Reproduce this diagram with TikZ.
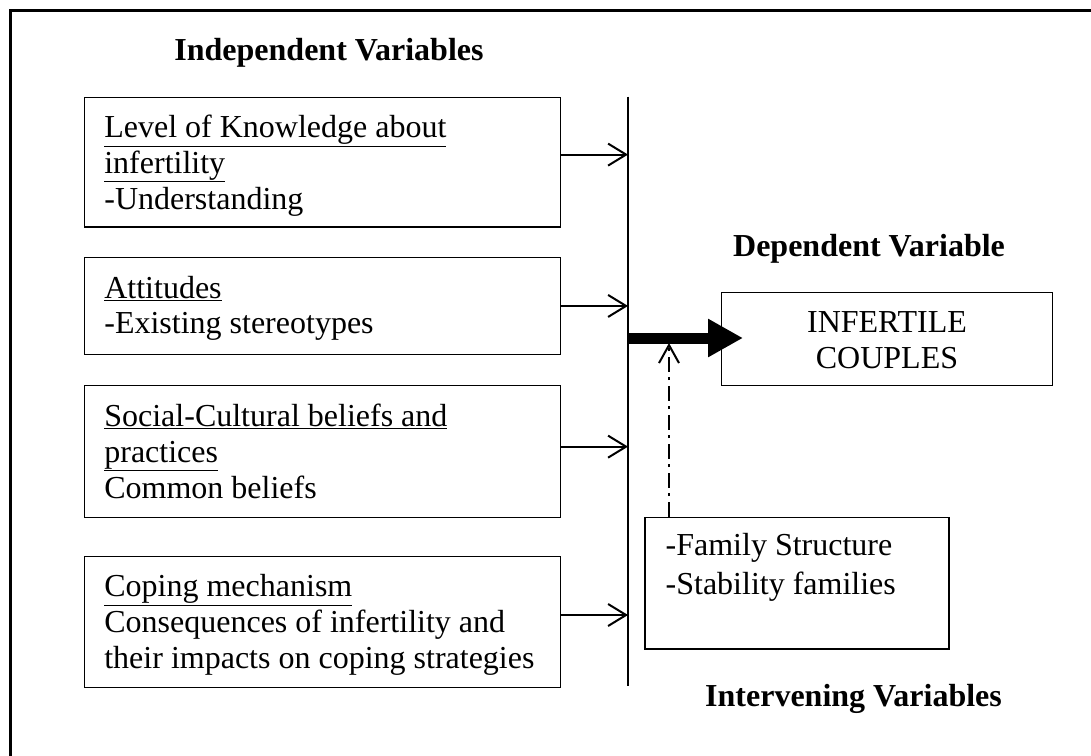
\documentclass[tikz,border=0pt]{standalone}
\usepackage{fontspec}
\setmainfont{Liberation Serif}
\usetikzlibrary{arrows.meta}

\begin{document}
\begin{tikzpicture}[
  x=1pt, y=-1pt,
  font=\fontsize{32}{35.7}\selectfont,
  arr/.style={-{Straight Barb[length=18pt,width=22pt]}, line width=2pt},
  bigarr/.style={-{Triangle[length=35pt,width=36pt]}, line width=11pt},
  modarr/.style={-{Straight Barb[length=18pt,width=20pt]}, line width=2pt, dash pattern=on 15pt off 5.5pt on 3pt off 5.5pt},
  head/.style={font=\fontsize{32}{35.7}\selectfont\bfseries, anchor=base},
  varbox/.style={draw, line width=1.3pt, anchor=north west, align=flush left, text width=436pt, inner xsep=20pt, inner ysep=0pt},
  outbox/.style={draw, line width=1.3pt, anchor=north west, align=center, inner sep=0pt}
]
\useasboundingbox (0,0) rectangle (1091,755);
\draw[line width=3pt] (10,10.7) rectangle (1200,800);

% Headings
\node[head] (indep)  at (329,60)      {Independent Variables};
\node[head] (dep)    at (869,256.7)   {Dependent Variable};
\node[head] (interv) at (853.5,706.7) {Intervening Variables};

% Independent variables
\node[varbox, text height=40.4pt, text depth=89.3pt] (know) at (83.7,96.6)
  {\underline{Level of Knowledge about}\\\underline{infertility}\\-Understanding};
\node[varbox, text height=40.5pt, text depth=56.1pt] (att) at (83.7,257)
  {\underline{Attitudes}\\-Existing stereotypes};
\node[varbox, text height=41pt, text depth=91pt] (soc) at (83.7,385)
  {\underline{Social-Cultural beliefs and}\\\underline{practices}\\Common beliefs};
\node[varbox, text height=40.3pt, text depth=91pt] (cope) at (83.7,555.7)
  {\underline{Coping mechanism}\\Consequences of infertility and\\their impacts on coping strategies};

% Dependent and intervening variables
\node[outbox, text width=331.3pt, text height=39.7pt, text depth=53.3pt, font=\fontsize{32}{36}\selectfont] (couple) at (720.7,292)
  {INFERTILE\\COUPLES};
\node[varbox, text width=262.6pt, inner xsep=20.7pt, text height=38.3pt, text depth=93.3pt, font=\fontsize{32}{39.3}\selectfont] (fam) at (644.3,516.7)
  {-Family Structure\\-Stability families};

% Collecting line
\coordinate (axtop) at (628,96.6);
\coordinate (axbot) at (628,686);
\draw[line width=2pt] (axtop) -- (axbot);

\draw[arr] ([yshift=7.5pt]know.east) -- ([yshift=7.5pt]know.east -| axtop);
\draw[arr] (att.east) -- (att.east -| axtop);
\draw[arr] ([yshift=5pt]soc.east) -- ([yshift=5pt]soc.east -| axtop);
\draw[arr] ([yshift=7pt]cope.east) -- ([yshift=7pt]cope.east -| axtop);

% Main effect and moderating effect
\coordinate (jn) at (628,338);
\coordinate (jtip) at (743,338);
\draw[bigarr] (jn) -- (jtip);
\coordinate (mtip) at (669,343);
\draw[modarr] (fam.north -| mtip) -- (mtip);

\end{tikzpicture}
\end{document}
